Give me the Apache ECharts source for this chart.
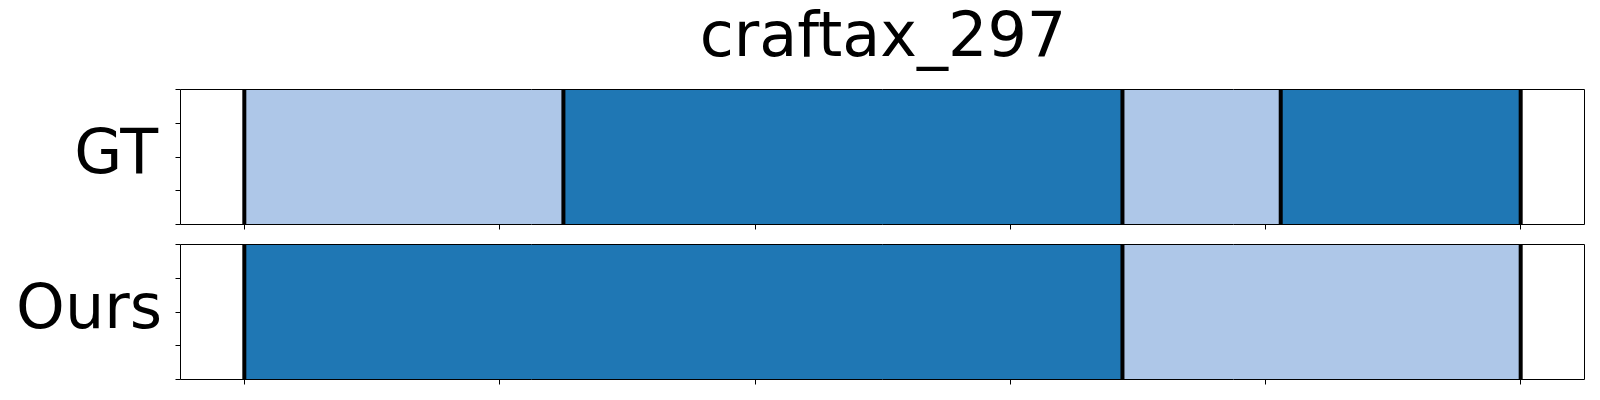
<!DOCTYPE html>
<html>
<head>
<meta charset="utf-8">
<script src="https://cdn.jsdelivr.net/npm/echarts@6/dist/echarts.min.js"></script>
<style>
html,body{margin:0;padding:0;background:#fff;}
#chart{width:1600px;height:400px;}
</style>
</head>
<body>
<div id="chart"></div>
<script>
const chartTitle = 'craftax_297';
const rowLabels = ['GT', 'Ours'];
const classColors = ['#aec7e8', '#1f77b4'];
const xTicks = [0, 50, 100, 150, 200, 250];
const yTicks = [0, 0.25, 0.5, 0.75, 1];
const gtBounds = [0, 62.5, 172, 203, 250];
const gtClasses = [0, 1, 0, 1];
const oursBounds = [0, 172, 250];
const oursClasses = [1, 0];

const rows = [
  {bounds: gtBounds, classes: gtClasses},
  {bounds: oursBounds, classes: oursClasses}
];

const xSpan = xTicks[xTicks.length-1] - xTicks[0];
const xMin = xTicks[0] - xSpan * 0.05;
const xMax = xTicks[xTicks.length-1] + xSpan * 0.05;

const gridTops = [89.5, 244.5];
const gridH = 135;

const grids = gridTops.map(t => ({
  left: 180.5, right: 15.5, top: t, height: gridH,
  show: true, backgroundColor: 'transparent', borderColor: '#000', borderWidth: 1, z: 10
}));

const xAxes = gridTops.map((t, i) => ({
  type: 'value', gridIndex: i, min: xMin, max: xMax, position: 'bottom',
  axisLine: {show: false},
  axisTick: {show: true, customValues: xTicks, length: 5, inside: false, lineStyle: {color: '#000', width: 1}},
  axisLabel: {show: false, customValues: xTicks},
  splitLine: {show: false}
}));

const yAxes = gridTops.map((t, i) => ({
  type: 'value', gridIndex: i, min: 0, max: 1, position: 'left',
  axisLine: {show: false},
  axisTick: {show: false},
  axisLabel: {show: false},
  splitLine: {show: false}
}));

const series = [];
rows.forEach((row, i) => {
  const segs = [];
  for (let k = 0; k < row.classes.length; k++) {
    segs.push([row.bounds[k], row.bounds[k+1], row.classes[k]]);
  }
  series.push({
    type: 'custom', xAxisIndex: i, yAxisIndex: i, z: 1,
    data: segs,
    renderItem: function (params, api) {
      const p0 = api.coord([api.value(0), 1]);
      const p1 = api.coord([api.value(1), 0]);
      return {
        type: 'rect',
        shape: {x: p0[0], y: p0[1], width: p1[0] - p0[0], height: p1[1] - p0[1]},
        style: {fill: classColors[api.value(2)]}
      };
    }
  });
  series.push({
    type: 'custom', xAxisIndex: i, yAxisIndex: i, z: 2,
    data: row.bounds.map(b => [b]),
    renderItem: function (params, api) {
      const p0 = api.coord([api.value(0), 1]);
      const p1 = api.coord([api.value(0), 0]);
      return {
        type: 'line',
        shape: {x1: p0[0], y1: p0[1], x2: p1[0], y2: p1[1]},
        style: {stroke: '#000', lineWidth: 4}
      };
    }
  });
  // y-axis ticks (outward, on the left), placed through the y scale
  series.push({
    type: 'custom', xAxisIndex: i, yAxisIndex: i, z: 12, clip: false, silent: true,
    data: yTicks.map(v => [xMin, v]),
    renderItem: function (params, api) {
      const p = api.coord([api.value(0), api.value(1)]);
      const y = Math.round(p[1] - 0.5) + 0.5;
      return {
        type: 'line',
        shape: {x1: p[0] - 5, y1: y, x2: p[0], y2: y},
        style: {stroke: '#000', lineWidth: 1}
      };
    }
  });
});

const graphics = [
  {type: 'text', x: 883, y: 40, style: {text: chartTitle, font: '62px "DejaVu Sans"', fill: '#000', align: 'center', verticalAlign: 'middle'}},
  {type: 'text', x: 158, y: gridTops[0] + gridH/2, style: {text: rowLabels[0], font: '62px "DejaVu Sans"', fill: '#000', align: 'right', verticalAlign: 'middle'}},
  {type: 'text', x: 162, y: gridTops[1] + gridH/2, style: {text: rowLabels[1], font: '62px "DejaVu Sans"', fill: '#000', align: 'right', verticalAlign: 'middle'}}
];

const chart = echarts.init(document.getElementById('chart'), null, {renderer: 'canvas'});
chart.setOption({
  animation: false,
  backgroundColor: '#fff',
  grid: grids,
  xAxis: xAxes,
  yAxis: yAxes,
  series: series,
  graphic: graphics
});
</script>
</body>
</html>
